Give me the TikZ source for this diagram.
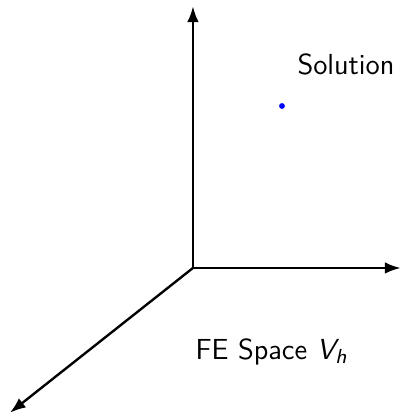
\documentclass[tikz,border=0pt]{standalone}
\usepackage{amsmath, amssymb}
\usepackage{xcolor}
\usepackage{tikz}
\usetikzlibrary{arrows.meta}

\begin{document}
\begin{tikzpicture}[line width=0.9pt,font=\fontsize{11}{13}\selectfont\sffamily,
  axis/.style={-{Latex[length=6pt,width=4.4pt]}}]
\useasboundingbox (-2.573,-1.987) rectangle (2.773,3.573);
%原点与坐标轴端点
\coordinate (o) at (0,0);
\coordinate (ztop) at (0,3.49);
\coordinate (xright) at (2.77,0);
\coordinate (ydown) at (-2.44,-1.93);

%坐标轴
\draw[axis] (o)--(ztop);
\draw[axis] (o)--(xright);
\draw[axis] (o)--(ydown);

%解的位置
\node[circle,fill=blue,inner sep=0pt,minimum size=2.2pt] (sol) at (1.187,2.16) {};
\node (sollabel) at (2.04,2.71) {Solution};

%有限元空间
\node (fespace) at (1.05,-1.12) {FE Space \textit{V\textsubscript{h}}};
\end{tikzpicture}
\end{document}
